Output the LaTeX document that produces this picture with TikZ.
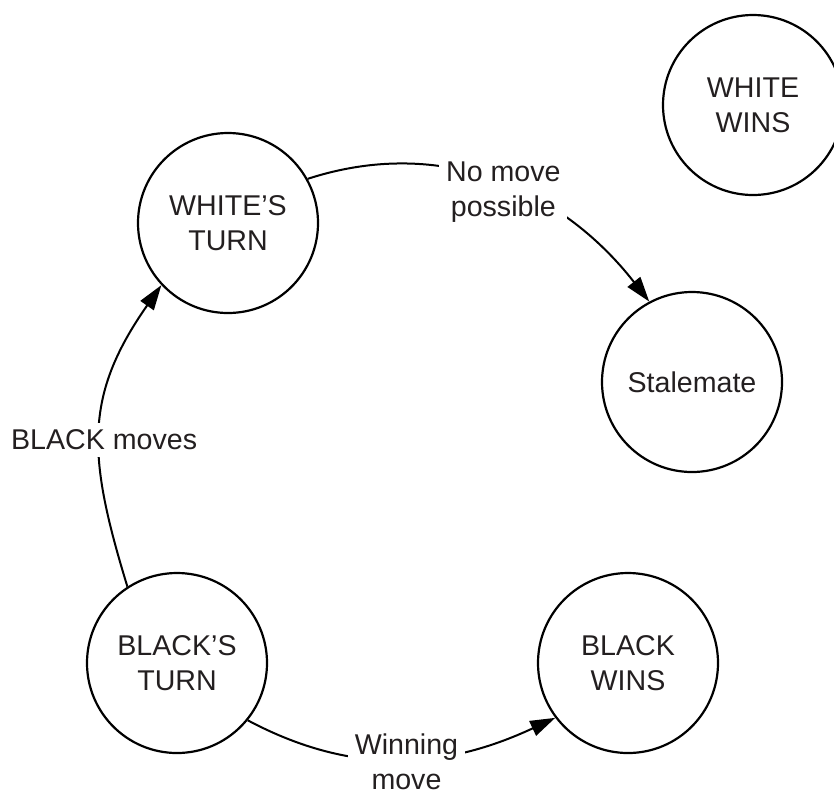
\documentclass[tikz,border=0pt]{standalone}
\usepackage{fontspec}
\setmainfont{Liberation Sans}
\usetikzlibrary{arrows.meta}

\definecolor{ink}{HTML}{231F20}

\begin{document}
\begin{tikzpicture}
    [
    x=0.5pt,
    y=-0.5pt,
    state/.style={
        circle,
        draw=black,
        line width=1.1pt,
        minimum size=90pt,
        inner sep=0pt,
        align=center,
        text=ink,
        font=\fontsize{14.3}{17.5}\selectfont
    },
    arrow/.style={-{Triangle[length=12.5pt,width=8pt]}, line width=1pt},
    lbl/.style={fill=white, align=center, text=ink, font=\fontsize{14.3}{17.5}\selectfont}
    ]

    \useasboundingbox (0,0) rectangle (834,794);

% States
    \node[state] (wturn) at (228,223) {WHITE’S\\TURN};
    \node[state] (wwins) at (753,105) {WHITE\\WINS};
    \node[state] (stale) at (692,382) {Stalemate};
    \node[state] (bturn) at (177,663) {BLACK’S\\TURN};
    \node[state] (bwins) at (628,663) {BLACK\\WINS};

% Transitions
    \draw[arrow] (bturn.123) to[out=107, in=235, looseness=1.15]
        node[lbl, xshift=2pt, yshift=-5.5pt] {BLACK moves} (wturn.223);
    \draw[arrow] (wturn.29) to[out=18, in=128]
        node[lbl, xshift=3.5pt, yshift=-5pt] {No move\\possible} (stale.118);
    \draw[arrow] (bturn.-39) to[out=-28, in=205]
        node[lbl, xshift=3pt, yshift=-1pt] {Winning\\move} (bwins.217);

\end{tikzpicture}
\end{document}
